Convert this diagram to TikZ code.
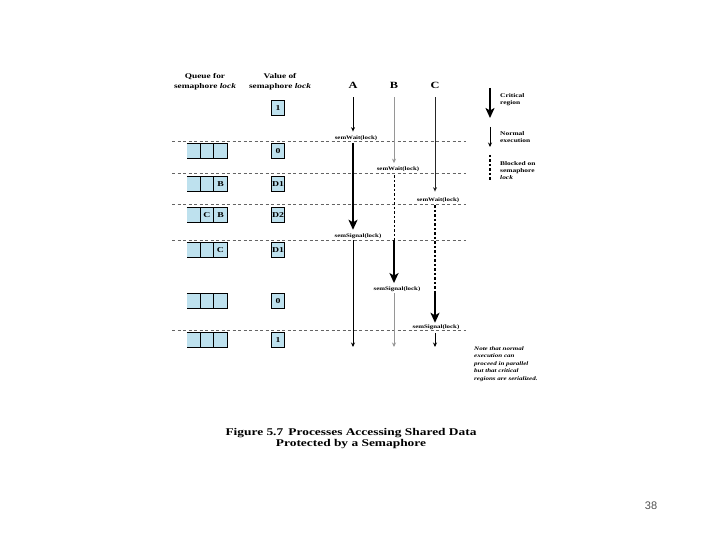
\documentclass[tikz,border=0pt]{standalone}
\usepackage{fontspec}
\newfontfamily\figfont{Liberation Serif}[FakeStretch=1.3]
\setsansfont{Liberation Sans}
\usetikzlibrary{arrows.meta,positioning}

\definecolor{cellblue}{RGB}{190,225,238}
\definecolor{procgray}{RGB}{150,150,150}
\definecolor{sepgray}{RGB}{100,100,100}
\definecolor{pagegray}{RGB}{80,80,80}

\begin{document}
\begin{tikzpicture}[x=1pt, y=-1pt,
  head/.style={align=center, inner sep=0pt, font=\figfont\fontsize{7.2}{10}\selectfont\bfseries},
  proc/.style={inner sep=0pt, font=\figfont\fontsize{9.5}{10}\selectfont\bfseries},
  call/.style={inner sep=0.3pt, font=\figfont\fontsize{5.3}{6}\selectfont\bfseries},
  legend/.style={anchor=west, align=left, inner sep=0pt, font=\figfont\fontsize{5.7}{7}\selectfont\bfseries},
  note/.style={anchor=west, align=left, inner sep=0pt, font=\figfont\fontsize{5.4}{7.5}\selectfont\bfseries\itshape},
  caption/.style={align=center, inner sep=0pt, font=\figfont\fontsize{10.3}{11}\selectfont\bfseries},
  cell/.style={fill=cellblue, minimum width=13.5pt, minimum height=15pt, inner sep=0pt, outer sep=0pt, font=\figfont\fontsize{7.5}{8}\selectfont\bfseries},
  cellline/.style={line width=1.3pt},
  val/.style={draw, line width=1.3pt, fill=cellblue, minimum width=13pt, minimum height=15pt, inner sep=0pt, font=\figfont\fontsize{7.5}{8}\selectfont\bfseries},
  sep/.style={sepgray, line width=1pt, dash pattern=on 3pt off 2.5pt},
  normal/.style={line width=0.7pt, -{Stealth[length=4.5pt,width=4pt]}},
  crit/.style={line width=2.8pt, -{Stealth[length=10pt,width=9pt,inset=2.5pt]}},
  blocked/.style={line width=2pt, dash pattern=on 2.5pt off 2pt},
  blockedthin/.style={line width=1pt, dash pattern=on 2.5pt off 2pt}]
\useasboundingbox (0,0) rectangle (720,540);

% column headings
\node[head] (qhead) at (205,81.5) {Queue for\\semaphore \textit{lock}};
\node[head] (vhead) at (280,81.5) {Value of\\semaphore \textit{lock}};
\node[proc] (procA) at (353,85) {A};
\node[proc] (procB) at (394,85) {B};
\node[proc] (procC) at (435,85) {C};

% separators between states
\foreach \y [count=\i] in {141.7,173.5,205,240,330}
  \draw[sep] (172,\y) coordinate (s\i) -- (466,\y);

% queue and semaphore value per state
\node[val] (v0) at (278,108) {1};
\foreach \y/\qa/\qb/\qc/\v [count=\i] in {151/{}/{}/{}/0, 184/{}/{}/B/D1, 215/{}/C/B/D2, 250/{}/{}/C/D1, 301/{}/{}/{}/0, 340/{}/{}/{}/1}{
  \node[cell] (q\i a) at (193.5,\y) {\qa};
  \node[cell, right=0pt of q\i a] (q\i b) {\qb};
  \node[cell, right=0pt of q\i b] (q\i c) {\qc};
  \draw[cellline] (q\i a.north west) -- (q\i c.north east) -- (q\i c.south east) -- (q\i a.south west)
    (q\i a.north east) -- (q\i a.south east) (q\i b.north east) -- (q\i b.south east);
  \node[val] (v\i) at (278,\y) {\v};
}

% semaphore calls
\node[call] (waitA) at (356,138) {semWait(lock)};
\node[call] (sigA) at (358,236) {semSignal(lock)};
\node[call] (waitB) at (398,169.5) {semWait(lock)};
\node[call] (sigB) at (397,289) {semSignal(lock)};
\node[call] (waitC) at (438,200.5) {semWait(lock)};
\node[call] (sigC) at (436,327) {semSignal(lock)};
\coordinate (endA) at (353,347);
\coordinate (endB) at (394,347);
\coordinate (endC) at (435,347);

% process A
\draw[normal, shorten <=9pt, shorten >=3.5pt] (procA.south) -- (waitA.north -| procA);
\draw[crit, shorten <=2pt, shorten >=3.3pt] (waitA.south -| procA) -- (sigA.north -| procA);
\draw[normal, shorten <=1pt] (sigA.south -| procA) -- (endA);
% process B
\draw[normal, procgray, shorten <=9pt, shorten >=3.5pt] (procB.south) -- (waitB.north -| procB);
\draw[blockedthin, shorten <=3pt] (waitB.south -| procB) -- (s4 -| procB);
\draw[crit, shorten >=3pt] (s4 -| procB) -- (sigB.north -| procB);
\draw[normal, procgray, shorten <=1pt] (sigB.south -| procB) -- (endB);
% process C
\draw[normal, black!85, shorten <=9pt, shorten >=6pt] (procC.south) -- (waitC.north -| procC);
\draw[blocked, shorten <=2pt] (waitC.south -| procC) -- (sigB.south -| procC);
\draw[crit, shorten >=1.3pt] (sigB.south -| procC) -- (sigC.north -| procC);
\draw[normal, shorten <=3pt] (sigC.south -| procC) -- (endC);

% key
\node[legend] (keyCrit) at (500,100) {Critical\\region};
\node[legend] (keyNorm) at (500,136.7) {Normal\\execution};
\node[legend] (keyBlock) at (500,170.3) {Blocked on\\semaphore\\\textit{lock}};
\draw[crit] (490,88) -- (490,118);
\draw[normal] (490,127) -- (490,147);
\draw[blocked] (490,155) -- (490,181);

\node[note] (remark) at (474,364) {Note that normal\\execution can\\proceed in parallel\\but that critical\\regions are serialized.};
\node[caption] (cap) at (351,438.5) {Figure 5.7\enspace Processes Accessing Shared Data\\Protected by a Semaphore};
\node[pagegray, font=\sffamily\fontsize{11}{12}\selectfont] (page) at (651,506) {38};
\end{tikzpicture}
\end{document}
